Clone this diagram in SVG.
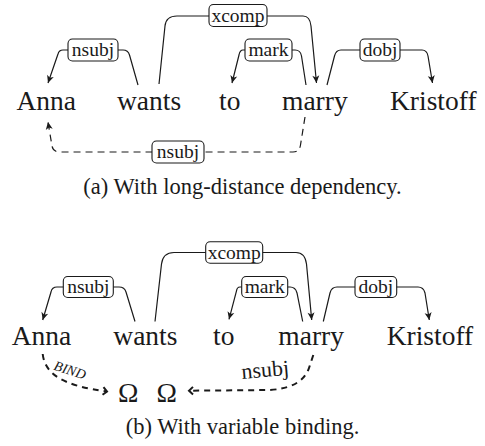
<svg xmlns="http://www.w3.org/2000/svg" width="485" height="446" viewBox="0 0 485 446">
<defs>
<style>
.f{font-family:"Liberation Serif","Times New Roman",serif}
.w{font-size:27.5px;fill:#1a1a1a}
.l{font-size:19.5px;fill:#1a1a1a;text-anchor:middle}
.c{font-size:22.5px;fill:#1a1a1a;text-anchor:middle}
.e{fill:none;stroke:#1a1a1a;stroke-width:1.2}
.d{fill:none;stroke:#1a1a1a;stroke-width:1.2;stroke-dasharray:7 5}
.db{fill:none;stroke:#1a1a1a;stroke-width:2;stroke-dasharray:6 5}
.b{fill:#fff;stroke:#1a1a1a;stroke-width:1.1}
</style>
<marker id="ar" viewBox="-8 -4 9 8" refX="0" refY="0" markerWidth="9" markerHeight="8" markerUnits="userSpaceOnUse" orient="auto">
<path d="M0,0 L-7.5,-3.5 L-5.5,0 L-7.5,3.5 Z" fill="#1a1a1a"/>
</marker>
<marker id="ch" viewBox="-7 -5 9 10" refX="0" refY="0" markerWidth="9" markerHeight="10" markerUnits="userSpaceOnUse" orient="auto">
<path d="M-4,-3.8 L0,0 L-4,3.8" fill="none" stroke="#1a1a1a" stroke-width="2"/>
</marker>
</defs>

<g id="connectors">
<path class="e" marker-end="url(#ar)" d="M138,85 L129.5,55 Q128,50 123,50 L63,50 Q59,50 58,54 L48,83"/>
<path class="e" marker-end="url(#ar)" d="M159,84 L165,26 Q166,16 177,16 L303,16 Q310,16 311,26 L316.5,83"/>
<path class="e" marker-end="url(#ar)" d="M306,85 L301.5,56 Q300.5,50 295,50 L243,50 Q240,50 239,55 L232,83"/>
<path class="e" marker-end="url(#ar)" d="M327,85 L334.5,56 Q336,50 341,50 L422,50 Q427,50 428,56 L432.5,83"/>
<path class="d" marker-end="url(#ar)" d="M305,117 L300.5,145 Q299.5,152 293,152 L60,152 Q53,152 52,146 L48,122"/>
<path class="e" marker-end="url(#ar)" d="M135,321.5 L126,292 Q124.5,287 119,287 L57,287 Q52,287 51,292 L42.7,320"/>
<path class="e" marker-end="url(#ar)" d="M155,321.5 L161.5,264 Q163,252.5 174,252.5 L296,252.5 Q305,252.5 306.5,264 L311.7,320"/>
<path class="e" marker-end="url(#ar)" d="M302.7,321.5 L297,293 Q295.5,287 290,287 L240,287 Q237,287 236.5,291 L229,319.3"/>
<path class="e" marker-end="url(#ar)" d="M323.3,321.5 L330,293 Q331.5,287 337,287 L418,287 Q423.5,287 425,293 L429.3,320"/>
<path class="db" marker-end="url(#ch)" d="M42.7,354 C45,375 65,386 107,391.5"/>
<path class="db" marker-end="url(#ch)" d="M313.3,355 L309,368 Q302,388 270,390 L189,390.7"/>
</g>

<g id="label-a-nsubj"><rect class="b" x="68" y="39" width="50" height="22" rx="4.5"/><text class="f l" x="93" y="56">nsubj</text></g>
<g id="label-a-xcomp"><rect class="b" x="209" y="4.5" width="58" height="22" rx="4.5"/><text class="f l" x="238" y="21.5">xcomp</text></g>
<g id="label-a-mark"><rect class="b" x="245" y="39" width="47" height="22" rx="4.5"/><text class="f l" x="268.5" y="56">mark</text></g>
<g id="label-a-dobj"><rect class="b" x="360" y="39" width="40" height="22" rx="4.5"/><text class="f l" x="380" y="56">dobj</text></g>
<g id="label-a-nsubj2"><rect class="b" x="152" y="141" width="52" height="22" rx="4.5"/><text class="f l" x="178" y="158">nsubj</text></g>

<g id="words-a">
<text class="f w" x="16.5" y="109.5">Anna</text>
<text class="f w" x="117" y="109.5">wants</text>
<text class="f w" x="219" y="109.5">to</text>
<text class="f w" x="282" y="109.5">marry</text>
<text class="f w" x="390" y="109.5">Kristoff</text>
</g>
<text id="caption-a" class="f c" x="242.5" y="194">(a) With long-distance dependency.</text>

<g id="label-b-nsubj"><rect class="b" x="63.3" y="276.5" width="50" height="21" rx="4.5"/><text class="f l" x="88.3" y="293">nsubj</text></g>
<g id="label-b-xcomp"><rect class="b" x="205.7" y="241.7" width="57" height="21.5" rx="4.5"/><text class="f l" x="234.2" y="258.5">xcomp</text></g>
<g id="label-b-mark"><rect class="b" x="241.7" y="276.5" width="46" height="21" rx="4.5"/><text class="f l" x="264.7" y="293">mark</text></g>
<g id="label-b-dobj"><rect class="b" x="355" y="276.5" width="41.7" height="21" rx="4.5"/><text class="f l" x="375.8" y="293">dobj</text></g>

<g id="words-b">
<text class="f w" x="11.7" y="345">Anna</text>
<text class="f w" x="113.3" y="345">wants</text>
<text class="f w" x="213" y="345">to</text>
<text class="f w" x="278.3" y="345">marry</text>
<text class="f w" x="386.7" y="345">Kristoff</text>
</g>
<g id="omega-1"><text class="f w" x="118" y="401.5">Ω</text></g>
<g id="omega-2"><text class="f w" x="156.5" y="401.5">Ω</text></g>
<text class="f" font-style="italic" font-size="14" fill="#1a1a1a" transform="translate(53,369.5) rotate(18)">BIND</text>
<text class="f" font-size="22" fill="#1a1a1a" transform="translate(242,379) rotate(-5)">nsubj</text>
<text id="caption-b" class="f c" x="242.5" y="434">(b) With variable binding.</text>
</svg>
